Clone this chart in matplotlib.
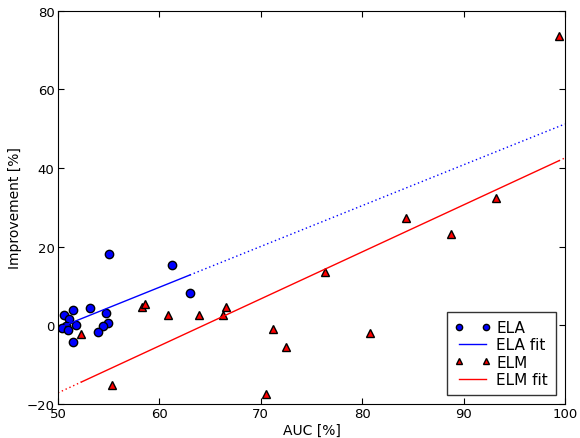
import numpy as np
import matplotlib
matplotlib.use('Agg')
import matplotlib.pyplot as plt

# ELA points (AUC [%], improvement [%])
ela_auc = [55.05, 61.2, 63.0, 53.15, 51.5, 50.6, 54.7, 51.1, 50.75, 50.4,
           51.0, 51.8, 54.9, 54.4, 53.9, 51.5]
ela_imp = [18.2, 15.3, 8.2, 4.35, 3.9, 2.6, 3.2, 1.45, -0.1, -0.75,
           -1.2, 0.0, 0.45, -0.15, -1.75, -4.3]

# ELM points
elm_auc = [52.3, 55.35, 58.3, 58.56, 60.86, 63.9, 66.3, 66.6, 70.5, 71.2,
           72.5, 76.3, 80.8, 84.3, 88.8, 93.2, 99.4]
elm_imp = [-2.3, -15.2, 4.6, 5.3, 2.5, 2.7, 2.7, 4.6, -17.5, -1.0,
           -5.6, 13.5, -2.0, 27.2, 23.2, 32.3, 73.6]

x_range = [50, 100]

plt.rcParams['font.family'] = 'DejaVu Sans'
plt.rcParams['font.size'] = 9.5
plt.rcParams['xtick.direction'] = 'in'
plt.rcParams['ytick.direction'] = 'in'
plt.rcParams['xtick.top'] = True
plt.rcParams['ytick.right'] = True
plt.rcParams['xtick.major.size'] = 4
plt.rcParams['ytick.major.size'] = 4
plt.rcParams['xtick.major.pad'] = 2.5
plt.rcParams['ytick.major.pad'] = 2.5

fig = plt.figure(figsize=(5.8, 4.39), dpi=100)
ax = fig.add_axes([0.1, 0.078, 0.874, 0.895])


def draw_fit(x, y, color, label):
    # least squares fit, solid over the data, dotted outside
    k, b = np.polyfit(x, y, 1)
    xs = np.array([min(x), max(x)])
    ax.plot(xs, k * xs + b, '-', color=color, lw=1, label=label)
    xl = np.array([x_range[0], min(x)])
    xr = np.array([max(x), x_range[1]])
    ax.plot(xl, k * xl + b, color=color, lw=1, dashes=(1, 2))
    ax.plot(xr, k * xr + b, color=color, lw=1, dashes=(1, 2))


ax.plot(ela_auc, ela_imp, 'o', color='blue', mec='black', ms=6, label='ELA')
draw_fit(ela_auc, ela_imp, 'blue', 'ELA fit')
ax.plot(elm_auc, elm_imp, '^', color='red', mec='black', ms=6, label='ELM')
draw_fit(elm_auc, elm_imp, 'red', 'ELM fit')

ax.set_xlim(50, 100)
ax.set_ylim(-20, 80)
ax.set_xticks([50, 60, 70, 80, 90, 100])
ax.set_yticks([-20, 0, 20, 40, 60, 80])
ax.set_xlabel('AUC [%]', fontsize=10, labelpad=2)
ax.set_ylabel('Improvement [%]', fontsize=10, labelpad=3)

h, l = ax.get_legend_handles_labels()
leg = ax.legend(h, l, loc='lower right', numpoints=2, markerscale=0.75,
                fontsize=11, fancybox=False, edgecolor='black',
                borderaxespad=0.6, borderpad=0.5, handlelength=2.35,
                labelspacing=0.15, handletextpad=0.4)
leg.get_frame().set_linewidth(1.0)

plt.savefig('out.png', dpi=100)
